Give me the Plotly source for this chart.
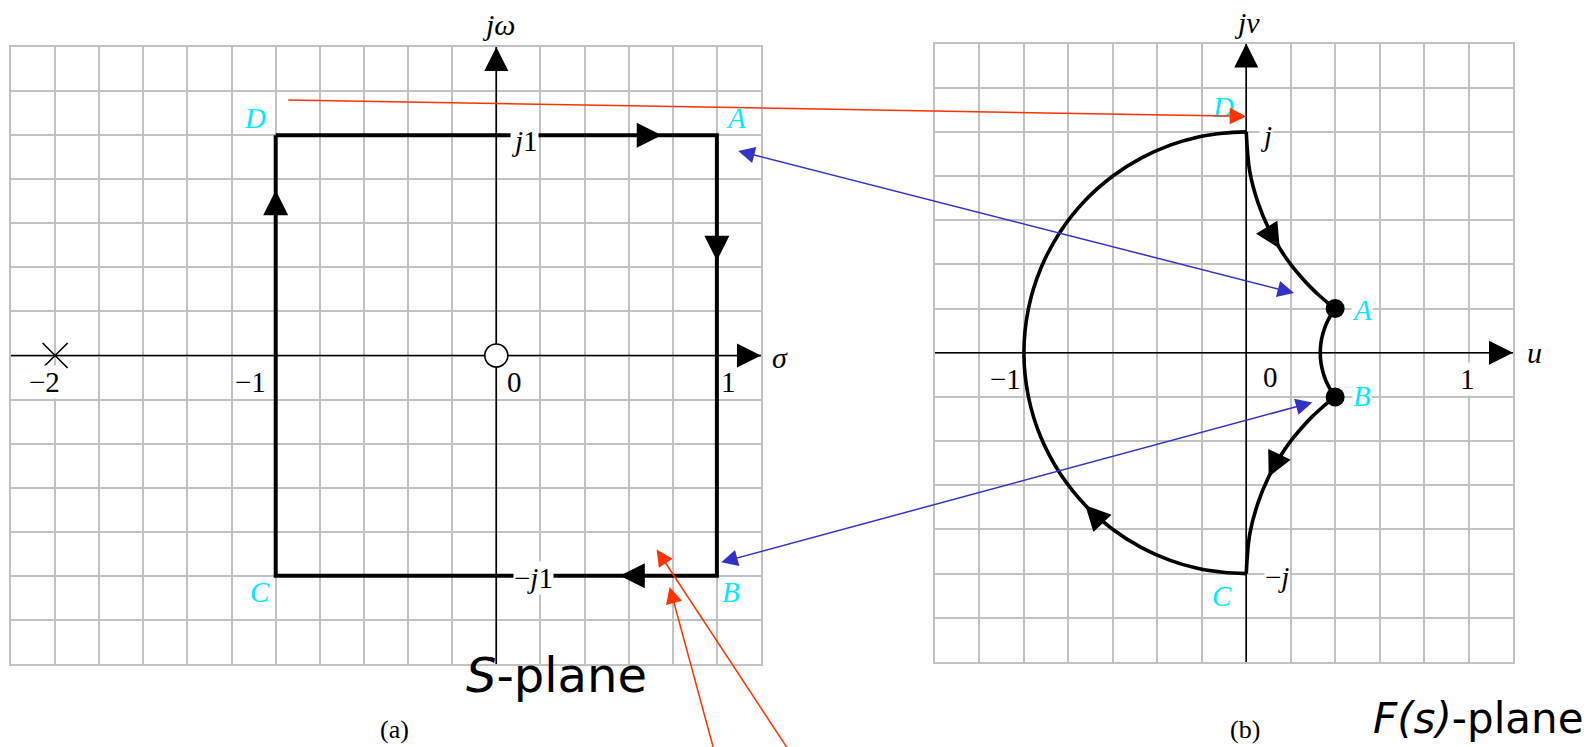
import math
import plotly.graph_objects as go

W, H = 1593, 747

# ---------------------------------------------------------------- data
# s-plane contour, traversed D -> A -> B -> C -> D
S_RE = [-1, 1, 1, -1, -1]
S_IM = [1, 1, -1, -1, 1]

# pole and zero of F(s)
POLE_RE, POLE_IM = [-2], [0]
ZERO_RE, ZERO_IM = [0], [0]

# F(s)-plane image of each side of the contour
DA_U = [0.0, 0.016, 0.054, 0.101, 0.151, 0.200, 0.247, 0.290, 0.330, 0.367, 0.400]
DA_V = [1.0, 0.820, 0.676, 0.562, 0.472, 0.400, 0.343, 0.296, 0.258, 0.226, 0.200]
AB_U = [0.400, 0.378, 0.359, 0.345, 0.336, 0.333, 0.336, 0.345, 0.359, 0.378, 0.400]
AB_V = [0.200, 0.166, 0.128, 0.087, 0.044, 0.0, -0.044, -0.087, -0.128, -0.166, -0.200]
BC_U = [0.400, 0.367, 0.330, 0.290, 0.247, 0.200, 0.151, 0.101, 0.054, 0.016, 0.0]
BC_V = [-0.200, -0.226, -0.258, -0.296, -0.343, -0.400, -0.472, -0.562, -0.676, -0.820, -1.0]
CD_U = [0.0, -0.105, -0.220, -0.342, -0.471, -0.600, -0.724, -0.835, -0.923, -0.980, -1.0,
        -0.980, -0.923, -0.835, -0.724, -0.600, -0.471, -0.342, -0.220, -0.105, 0.0]
CD_V = [-1.0, -0.994, -0.976, -0.940, -0.882, -0.800, -0.690, -0.550, -0.385, -0.198, 0.0,
        0.198, 0.385, 0.550, 0.690, 0.800, 0.882, 0.940, 0.976, 0.994, 1.0]

# images of A and B
F_DOT_U = [0.4, 0.4]
F_DOT_V = [0.2, -0.2]

# where the direction arrows sit on each s-plane side (fraction along the side)
S_ARROW_FRAC = [0.875, 0.285, 0.22, 0.875]
# index of the point carrying a direction arrow on the F(s)-plane sides
F_ARROWS = [("DA", 4), ("BC", 7), ("CD", 6)]

# correspondence arrows: (left-panel point, right-panel point)
BLUE_LINKS = [((1.09, 0.93), (0.215, 0.27)), ((1.013, -0.94), (0.297, -0.225))]
RED_LINK = ((-0.95, 1.16), (0.0, 1.07))
RED_POINTERS = [((0.727, -0.88), (1.43, -1.95)), ((0.786, -1.05), (1.03, -1.95))]

# ------------------------------------------------------------- geometry
LEFT = dict(px=(11, 761), py=(47, 664), xr=(-2.2, 1.2), yr=(-1.4, 1.4))
RIGHT = dict(px=(935, 1513), py=(43.5, 662), xr=(-1.4, 1.2), yr=(-1.4, 1.4))


def to_px(p, x, y):
    fx = (x - p["xr"][0]) / (p["xr"][1] - p["xr"][0])
    fy = (y - p["yr"][0]) / (p["yr"][1] - p["yr"][0])
    return (p["px"][0] + fx * (p["px"][1] - p["px"][0]),
            p["py"][1] - fy * (p["py"][1] - p["py"][0]))


def axis_style(p, horizontal):
    lo, hi = p["px"] if horizontal else p["py"]
    dom = [lo / W, hi / W] if horizontal else [1 - hi / H, 1 - lo / H]
    return dict(domain=dom, range=list(p["xr"] if horizontal else p["yr"]),
                showgrid=True, gridcolor="#c2c2c2", gridwidth=2,
                dtick=0.2, tick0=0, zeroline=False, showticklabels=False,
                showline=True, mirror=True, linecolor="#c2c2c2", linewidth=2,
                ticks="", fixedrange=True)


fig = go.Figure()
BLACK = "#000000"
CYAN = "#00eaff"
RED = "#ff3300"
BLUE = "#3232c8"
SERIF = "Liberation Serif"
SANS = "DejaVu Sans"

# axes of both planes
for xa, ya, p in (("x", "y", LEFT), ("x2", "y2", RIGHT)):
    fig.add_trace(go.Scatter(x=[p["xr"][0], p["xr"][1]], y=[0, 0], mode="lines",
                             line=dict(color=BLACK, width=1.6), xaxis=xa, yaxis=ya,
                             hoverinfo="skip"))
    fig.add_trace(go.Scatter(x=[0, 0], y=[p["yr"][0], p["yr"][1]], mode="lines",
                             line=dict(color=BLACK, width=1.6), xaxis=xa, yaxis=ya,
                             hoverinfo="skip"))

# s-plane contour
fig.add_trace(go.Scatter(x=S_RE, y=S_IM, mode="lines",
                         line=dict(color=BLACK, width=4), xaxis="x", yaxis="y"))
# pole and zero
fig.add_trace(go.Scatter(x=POLE_RE, y=POLE_IM, mode="markers",
                         marker=dict(symbol="x-thin", size=25,
                                     line=dict(color=BLACK, width=1.6)),
                         xaxis="x", yaxis="y"))
fig.add_trace(go.Scatter(x=ZERO_RE, y=ZERO_IM, mode="markers",
                         marker=dict(symbol="circle", size=23, color="white",
                                     line=dict(color=BLACK, width=1.6)),
                         xaxis="x", yaxis="y"))

# F(s)-plane contour
F_SIDES = {"DA": (DA_U, DA_V), "AB": (AB_U, AB_V), "BC": (BC_U, BC_V), "CD": (CD_U, CD_V)}
for us, vs in F_SIDES.values():
    fig.add_trace(go.Scatter(x=us, y=vs, mode="lines",
                             line=dict(color=BLACK, width=3.6, shape="spline", smoothing=1.0),
                             xaxis="x2", yaxis="y2"))
fig.add_trace(go.Scatter(x=F_DOT_U, y=F_DOT_V, mode="markers",
                         marker=dict(size=19, color=BLACK), xaxis="x2", yaxis="y2"))

annotations = []


def head(xa, ya, tx, ty, dx, dy, size, width=2.0, back=0.09):
    n = math.hypot(dx, dy)
    return dict(x=tx, y=ty, xref=xa, yref=ya,
                ax=tx - back * dx / n, ay=ty - back * dy / n, axref=xa, ayref=ya,
                text="", showarrow=True, arrowhead=2, arrowsize=size,
                arrowwidth=width, arrowcolor=BLACK, font=dict(size=1))


def label(p, x, y, text, size, color=BLACK, family=SERIF, bg="white"):
    px, py = to_px(p, x, y)
    return dict(x=px / W, y=1 - py / H, xref="paper", yref="paper", text=text,
                showarrow=False, font=dict(family=family, size=size, color=color),
                bgcolor=bg, borderpad=0, xanchor="center", yanchor="middle")


# tick / point labels, s-plane
for x, y, t in ((-2.05, -0.12, "\u22122"), (-1.113, -0.12, "\u22121"),
                (0.084, -0.12, "0"), (1.054, -0.12, "1"),
                (0.13, 0.975, "<i>j</i>1"), (0.17, -1.01, "\u2212<i>j</i>1")):
    annotations.append(label(LEFT, x, y, t, 29))
annotations.append(label(LEFT, 0.01, 1.50, "<i>j\u03c9</i>", 30, bg=None))
annotations.append(label(LEFT, 1.285, -0.01, "<i>\u03c3</i>", 30, bg=None))
for x, y, t in ((-1.095, 1.077, "D"), (1.086, 1.077, "A"),
                (1.063, -1.075, "B"), (-1.072, -1.075, "C")):
    annotations.append(label(LEFT, x, y, f"<i>{t}</i>", 29, color=CYAN, bg=None))

# tick / point labels, F(s)-plane
annotations.append(label(RIGHT, -1.085, -0.12, "\u22121", 29, bg=None))
for x, y, t in ((0.107, -0.11, "0"), (0.994, -0.12, "1"),
                (0.09, 0.98, "<i>j</i>"), (0.14, -1.014, "\u2212<i>j</i>")):
    annotations.append(label(RIGHT, x, y, t, 29))
annotations.append(label(RIGHT, 0.005, 1.495, "<i>j\u03bd</i>", 30, bg=None))
annotations.append(label(RIGHT, 1.295, 0.0, "<i>u</i>", 30, bg=None))
for x, y, t in ((-0.104, 1.114, "D"), (0.52, 0.195, "A"),
                (0.52, -0.195, "B"), (-0.109, -1.10, "C")):
    annotations.append(label(RIGHT, x, y, f"<i>{t}</i>", 29, color=CYAN))

# axis arrow heads
for xa, ya, p in (("x", "y", LEFT), ("x2", "y2", RIGHT)):
    annotations.append(head(xa, ya, p["xr"][1], 0, 1, 0, 3.2, width=1.5))
    annotations.append(head(xa, ya, 0, p["yr"][1], 0, 1, 3.2, width=1.5))

# direction arrows on the s-plane contour
for i, f in enumerate(S_ARROW_FRAC):
    x0, y0, x1, y1 = S_RE[i], S_IM[i], S_RE[i + 1], S_IM[i + 1]
    annotations.append(head("x", "y", x0 + f * (x1 - x0), y0 + f * (y1 - y0),
                            x1 - x0, y1 - y0, 2.5))

# direction arrows on the F(s)-plane contour
for side, k in F_ARROWS:
    us, vs = F_SIDES[side]
    annotations.append(head("x2", "y2", us[k], vs[k],
                            us[k + 1] - us[k - 1], vs[k + 1] - vs[k - 1], 2.5))


def link(left_pt, right_pt, color, both):
    lx, ly = to_px(LEFT, *left_pt)
    rx, ry = to_px(RIGHT, *right_pt)
    d = dict(x=right_pt[0], y=right_pt[1], xref="x2", yref="y2",
             ax=lx - rx, ay=ly - ry, axref="pixel", ayref="pixel",
             text="", showarrow=True, arrowhead=2, arrowsize=2.2,
             arrowwidth=1.5, arrowcolor=color, font=dict(size=1))
    if both:
        d.update(arrowside="end+start", startarrowhead=2, startarrowsize=2.2)
    return d


annotations.append(link(RED_LINK[0], RED_LINK[1], RED, False))
for a, b in BLUE_LINKS:
    annotations.append(link(a, b, BLUE, True))
for tip, tail in RED_POINTERS:
    annotations.append(dict(x=tip[0], y=tip[1], xref="x", yref="y",
                            ax=tail[0], ay=tail[1], axref="x", ayref="y",
                            text="", showarrow=True, arrowhead=2, arrowsize=2.2,
                            arrowwidth=1.5, arrowcolor=RED, font=dict(size=1)))


# captions
def caption(x, y, text, family, size):
    return dict(x=x / W, y=1 - y / H, xref="paper", yref="paper", text=text,
                showarrow=False, xanchor="center", yanchor="middle",
                font=dict(family=family, size=size, color=BLACK))


annotations.append(caption(556, 675, "<i>S</i>-plane", SANS, 48))
annotations.append(caption(1478, 718, "<i>F(s)</i>-plane", SANS, 42))
annotations.append(caption(394, 729, "(a)", SERIF, 26))
annotations.append(caption(1245, 729, "(b)", SERIF, 26))

fig.update_layout(
    width=W, height=H, margin=dict(l=0, r=0, t=0, b=0),
    paper_bgcolor="white", plot_bgcolor="white", showlegend=False,
    xaxis=dict(axis_style(LEFT, True), anchor="y"),
    yaxis=dict(axis_style(LEFT, False), anchor="x"),
    xaxis2=dict(axis_style(RIGHT, True), anchor="y2"),
    yaxis2=dict(axis_style(RIGHT, False), anchor="x2"),
    annotations=annotations,
)

fig.write_html("out.html")
